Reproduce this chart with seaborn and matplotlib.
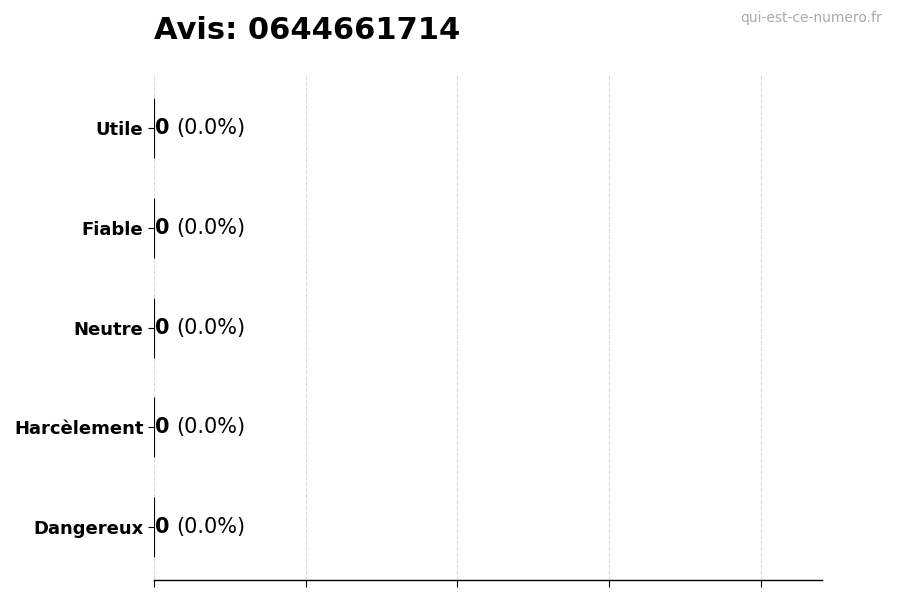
import pandas as pd
import matplotlib
matplotlib.use('Agg')
import matplotlib.pyplot as plt
import seaborn as sns

# Données du graphique
categories = ['Utile', 'Fiable', 'Neutre', 'Harcèlement', 'Dangereux']
votes = [0, 0, 0, 0, 0]
pourcentages = [0.0, 0.0, 0.0, 0.0, 0.0]
numero = '0644661714'

df = pd.DataFrame({'Categorie': categories, 'Votes': votes})

sns.set_style('white', rc={'text.color': 'black', 'axes.labelcolor': 'black',
                           'xtick.color': 'black', 'ytick.color': 'black'})
plt.rcParams['font.family'] = ['DejaVu Sans']

fig, ax = plt.subplots(figsize=(9, 6), dpi=100)
fig.subplots_adjust(left=0.171, right=0.913, top=0.875, bottom=0.033)

sns.barplot(data=df, x='Votes', y='Categorie', orient='h', color='#4c72b0',
            edgecolor='black', linewidth=0.8, width=0.6, ax=ax)

# Valeurs à droite des barres
for i, (v, p) in enumerate(zip(votes, pourcentages)):
    ax.annotate(str(v), xy=(v, i), xytext=(1, 0), textcoords='offset points',
                ha='left', va='center', fontsize=15, fontweight='bold', color='black')
    ax.annotate(f'({p:.1f}%)', xy=(v, i), xytext=(16, 0), textcoords='offset points',
                ha='left', va='center', fontsize=15, color='black')

ax.set_xlim(0, 4.4)
ax.set_ylim(len(categories) - 0.47, -0.53)
ax.set_xticks([0, 1, 2, 3, 4])
ax.set_xticklabels([])
ax.set_xlabel('')
ax.set_ylabel('')
ax.tick_params(axis='y', labelsize=13, length=4, width=0.8, left=True)
ax.tick_params(axis='x', length=5, width=0.8, bottom=True)
for lab in ax.get_yticklabels():
    lab.set_fontweight('bold')
    lab.set_color('black')

ax.grid(axis='x', linestyle='--', color='#d9d9d9', linewidth=0.8)
ax.set_axisbelow(True)
sns.despine(ax=ax, left=True, top=True, right=True)
ax.spines['bottom'].set_color('black')
ax.spines['bottom'].set_linewidth(1)

ax.set_title(f'Avis: {numero}', loc='left', fontsize=22, fontweight='bold',
             pad=26, color='black')
fig.text(0.98, 0.97, 'qui-est-ce-numero.fr', ha='right', va='center',
         fontsize=10, color='#aaaaaa')

plt.savefig('out.png', dpi=100)
